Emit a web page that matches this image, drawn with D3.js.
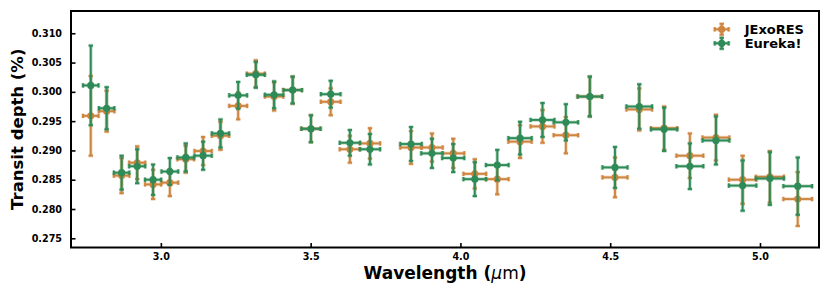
<!DOCTYPE html>
<html>
<head>
<meta charset="utf-8">
<script src="https://cdn.jsdelivr.net/npm/d3@7"></script>
<style>
	body { margin: 0; background: #fff; }
	svg text { font-family: "DejaVu Sans", sans-serif; font-weight: bold; fill: #000; }
</style>
</head>
<body>
<svg id="chart" width="830" height="295"></svg>
<script>
// wavelength bins (um) and half widths
let wavelength = [2.766, 2.819, 2.869, 2.921, 2.974, 3.030, 3.083, 3.141, 3.199, 3.258, 3.317,
	3.378, 3.440, 3.501, 3.567, 3.631, 3.698, 3.835, 3.905, 3.976, 4.048, 4.123, 4.199, 4.274,
	4.352, 4.432, 4.516, 4.597, 4.680, 4.766, 4.853, 4.942, 5.033, 5.126];
let binHalf = [0.026, 0.026, 0.026, 0.027, 0.027, 0.028, 0.028, 0.029, 0.029, 0.030, 0.030,
	0.031, 0.031, 0.032, 0.033, 0.034, 0.034, 0.036, 0.036, 0.037, 0.038, 0.038, 0.039, 0.040,
	0.041, 0.041, 0.042, 0.043, 0.044, 0.045, 0.045, 0.046, 0.047, 0.048];

// JExoRES
let jexoDepth = [0.2959, 0.2967, 0.2857, 0.2879, 0.2842, 0.2845, 0.2885, 0.2899, 0.2925, 0.2976, 0.3031,
	0.2992, 0.3003, 0.2937, 0.2983, 0.2902, 0.2912, 0.2905, 0.2905, 0.2895, 0.2860, 0.2851, 0.2915, 0.2941,
	0.2926, 0.2992, 0.2854, 0.2970, 0.2938, 0.2891, 0.2922, 0.2850, 0.2855, 0.2817];
let jexoErr = [0.0068, 0.0035, 0.0030, 0.0028, 0.0025, 0.0023, 0.0023, 0.0024, 0.0024, 0.0023, 0.0023,
	0.0024, 0.0023, 0.0023, 0.0023, 0.0023, 0.0026, 0.0028, 0.0024, 0.0025, 0.0025, 0.0026, 0.0028, 0.0028,
	0.0031, 0.0034, 0.0034, 0.0036, 0.0037, 0.0038, 0.0039, 0.0041, 0.0044, 0.0046];

// Eureka!
let eurekaDepth = [0.3011, 0.2972, 0.2862, 0.2873, 0.2850, 0.2864, 0.2888, 0.2891, 0.2929, 0.2994, 0.3029,
	0.2995, 0.3003, 0.2937, 0.2996, 0.2913, 0.2902, 0.2911, 0.2895, 0.2887, 0.2851, 0.2875, 0.2921, 0.2952,
	0.2948, 0.2992, 0.2871, 0.2975, 0.2936, 0.2873, 0.2917, 0.2840, 0.2852, 0.2839];
let eurekaErr = [0.0068, 0.0036, 0.0029, 0.0029, 0.0026, 0.0023, 0.0024, 0.0024, 0.0024, 0.0023, 0.0022,
	0.0023, 0.0023, 0.0023, 0.0023, 0.0022, 0.0026, 0.0029, 0.0025, 0.0024, 0.0029, 0.0026, 0.0028, 0.0029,
	0.0031, 0.0034, 0.0035, 0.0038, 0.0037, 0.0039, 0.0041, 0.0043, 0.0045, 0.0049];

let xTicks = [3.0, 3.5, 4.0, 4.5, 5.0];
let yTicks = [0.275, 0.280, 0.285, 0.290, 0.295, 0.300, 0.305, 0.310];

let seriesList = [
	{ 'name': 'JExoRES', 'depth': jexoDepth, 'err': jexoErr, 'color': '#cd853f' },
	{ 'name': 'Eureka!', 'depth': eurekaDepth, 'err': eurekaErr, 'color': '#2e8b57' }
];

let margin = { top: 11, right: 11, bottom: 47.5, left: 71 };
let width = 830 - margin.left - margin.right;
let height = 295 - margin.top - margin.bottom;

let svg = d3.select('svg#chart').append('g')
	.attr('transform', 'translate(' + margin.left + ',' + margin.top + ')');

let x = d3.scaleLinear([2.70, 5.197], [0, width]);
let y = d3.scaleLinear([0.27343, 0.3138], [height, 0]);

// axes, ticks pointing inward
let xAxis = svg.append('g')
	.attr('transform', 'translate(0,' + height + ')')
	.call(d3.axisBottom(x).tickValues(xTicks).tickFormat(d3.format('.1f')).tickSizeInner(-4.5).tickSizeOuter(0).tickPadding(6));
let yAxis = svg.append('g')
	.call(d3.axisLeft(y).tickValues(yTicks).tickFormat(d3.format('.3f')).tickSizeInner(-4.5).tickSizeOuter(0).tickPadding(9));
[xAxis, yAxis].forEach(function (a) {
	a.select('.domain').remove();
	a.selectAll('.tick line').attr('stroke', '#000').attr('stroke-width', 1.6);
	a.selectAll('.tick text').style('font-size', '9.6px');
});

svg.append('rect')
	.attr('width', width).attr('height', height)
	.attr('fill', 'none').attr('stroke', '#000').attr('stroke-width', 2);

// draw one errorbar glyph
function drawBar(g, cx, cy, x0, x1, y0, y1, color) {
	let cap = 2.2;
	let segs = [
		[x0, cy, x1, cy], [cx, y0, cx, y1],
		[x0, cy - cap, x0, cy + cap], [x1, cy - cap, x1, cy + cap],
		[cx - cap, y0, cx + cap, y0], [cx - cap, y1, cx + cap, y1]
	];
	// soft halo then solid core
	[[3.6, 0.3], [1.9, 1]].forEach(function (st) {
		segs.forEach(function (s) {
			g.append('line')
				.attr('x1', s[0]).attr('y1', s[1]).attr('x2', s[2]).attr('y2', s[3])
				.attr('stroke', color).attr('stroke-width', st[0]).attr('stroke-opacity', st[1]);
		});
	});
	g.append('circle').attr('cx', cx).attr('cy', cy).attr('r', 3.6).attr('fill', color);
}

let plot = svg.append('g').attr('class', 'points');
seriesList.forEach(function (s) {
	let g = plot.append('g');
	wavelength.forEach(function (w, i) {
		drawBar(g, x(w), y(s.depth[i]),
			x(w - binHalf[i]), x(w + binHalf[i]),
			y(s.depth[i] - s.err[i]), y(s.depth[i] + s.err[i]), s.color);
	});
});

// legend
let legend = svg.append('g').attr('class', 'legend');
seriesList.forEach(function (s, i) {
	let ly = 18.3 + i * 14;
	let lx = 650.7;
	drawBar(legend.append('g'), lx, ly, lx - 7, lx + 7, ly + 5.5, ly - 5.5, s.color);
	legend.append('text')
		.attr('x', lx + 23).attr('y', ly)
		.attr('dy', '0.36em')
		.style('font-size', '13px')
		.text(s.name);
});

// axis titles
let xt = svg.append('text')
	.attr('x', width / 2).attr('y', height + 31)
	.attr('text-anchor', 'middle')
	.style('font-size', '17px');
xt.append('tspan').text('Wavelength (');
xt.append('tspan').style('font-style', 'italic').style('font-weight', 'normal').text('\u03bc');
xt.append('tspan').style('font-weight', 'normal').text('m');
xt.append('tspan').text(')');
svg.append('text')
	.attr('transform', 'translate(' + (-48) + ',' + (height / 2) + ') rotate(-90)')
	.attr('text-anchor', 'middle')
	.style('font-size', '16.5px')
	.text('Transit depth (%)');
</script>
</body>
</html>
